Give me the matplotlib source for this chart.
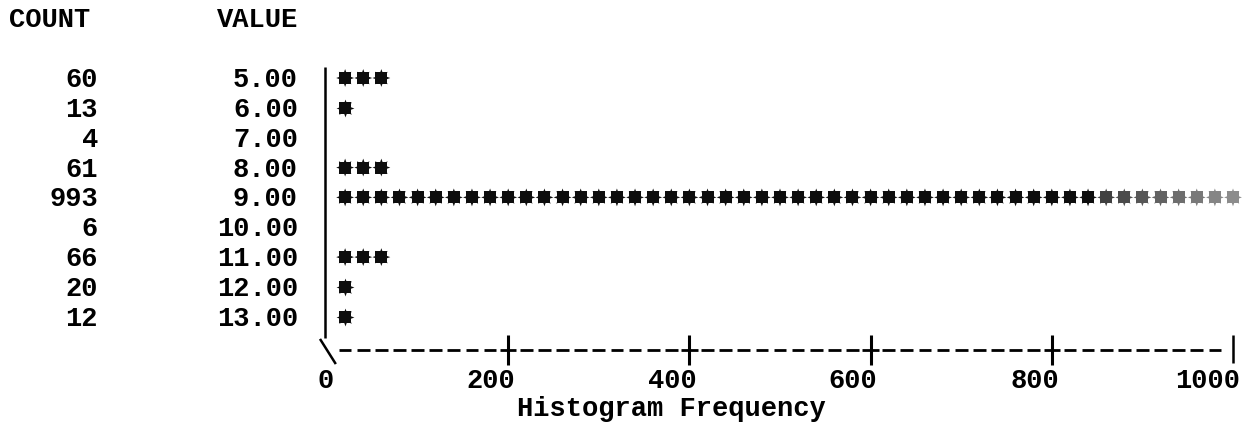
import matplotlib
matplotlib.use("Agg")
import matplotlib.pyplot as plt
import matplotlib.transforms as mtransforms

# data
values = [5.0, 6.0, 7.0, 8.0, 9.0, 10.0, 11.0, 12.0, 13.0]
counts = [60, 13, 4, 61, 993, 6, 66, 20, 12]
x_ticks = [0, 200, 400, 600, 800, 1000]
per_star = 20  # each symbol stands for 20 cases

W, H = 1255, 426
FONT = "Liberation Mono"
FS = 19.5


def fx(px):
    return px / W


def fy(py):
    return 1 - py / H


fig = plt.figure(figsize=(W / 100, H / 100), dpi=100)
fig.patch.set_facecolor("white")

# axes: x 0..1000 -> px 327..1233, rows step ~29.85 px
ax_l, ax_r, ax_t, ax_b = 327, 1233, 67, 350
ax = fig.add_axes([fx(ax_l), fy(ax_b), fx(ax_r - ax_l), (ax_b - ax_t) / H])
row0_px, row_step = 78, 29.85
y_top = 5 - (row0_px - ax_t) / row_step
y_bot = 5 + (ax_b - row0_px) / row_step
ax.set_xlim(0, 1000)
ax.set_ylim(y_bot, y_top)
ax.set_xticks([]); ax.set_yticks([])
for s in ax.spines.values():
    s.set_visible(False)
ax.patch.set_alpha(0)

# vertical axis line
ax.plot([-2.5, -2.5], [y_top, y_bot - 12 / row_step], color="black", lw=1.8,
        clip_on=False, solid_capstyle="butt")

# stars
for v, c in zip(values, counts):
    n = int(round(c / per_star))
    xs = [per_star * (k + 1) for k in range(n)]
    cols = []
    for k in range(n):
        if k >= 42:
            g = min(0.25 + 0.045 * (k - 42), 0.55)
            cols.append((g, g, g))
        else:
            cols.append((0.05, 0.05, 0.05))
    ax.scatter(xs, [v] * n, marker="s", s=75, c=cols, linewidths=0,
               clip_on=False, zorder=3)
    ax.scatter(xs, [v] * n, marker=(8, 1, 0), s=165, c=cols, linewidths=0,
               clip_on=False, zorder=3)

# bottom axis drawn as "\---------+---------+ ... ---------|"
axis_y = y_bot
half = 15 / row_step
for k in range(1, 50):
    if k % 10 == 0:
        continue
    x0 = per_star * k
    ax.plot([x0 - 7, x0 + 7], [axis_y, axis_y], color="black", lw=2.0,
            clip_on=False, solid_capstyle="butt")
for t in x_ticks[1:-1]:
    ax.plot([t - 9, t + 9], [axis_y, axis_y], color="black", lw=2.0,
            clip_on=False, solid_capstyle="butt")
    ax.plot([t, t], [axis_y - half, axis_y + half], color="black", lw=2.2,
            clip_on=False, solid_capstyle="butt")
ax.plot([x_ticks[-1], x_ticks[-1]], [axis_y - half, axis_y + 13 / row_step],
        color="black", lw=1.8, clip_on=False, solid_capstyle="butt")
ax.plot([-7, 9], [axis_y - 10 / row_step, axis_y + 13 / row_step],
        color="black", lw=1.8, clip_on=False)

# tick labels
for t in x_ticks:
    ax.annotate(str(t), xy=(t, axis_y), xytext=(7, -38),
                textcoords="offset pixels", ha="right", va="baseline",
                family=FONT, fontweight="bold", fontsize=FS, annotation_clip=False)

fig.text(fx(671), fy(416), "Histogram Frequency", ha="center", va="baseline",
         family=FONT, fontweight="bold", fontsize=FS)

# left columns
tr = mtransforms.blended_transform_factory(fig.transFigure, ax.transData)
base_off = 9 / row_step
for v, c in zip(values, counts):
    ax.text(fx(98), v + base_off, str(c), transform=tr, ha="right",
            va="baseline", family=FONT, fontweight="bold", fontsize=FS)
    ax.text(fx(298), v + base_off, f"{v:.2f}", transform=tr, ha="right",
            va="baseline", family=FONT, fontweight="bold", fontsize=FS)

fig.text(fx(9), fy(27), "COUNT", ha="left", va="baseline",
         family=FONT, fontweight="bold", fontsize=FS)
fig.text(fx(298), fy(27), "VALUE", ha="right", va="baseline",
         family=FONT, fontweight="bold", fontsize=FS)

fig.savefig("out.png", dpi=100, facecolor="white")
